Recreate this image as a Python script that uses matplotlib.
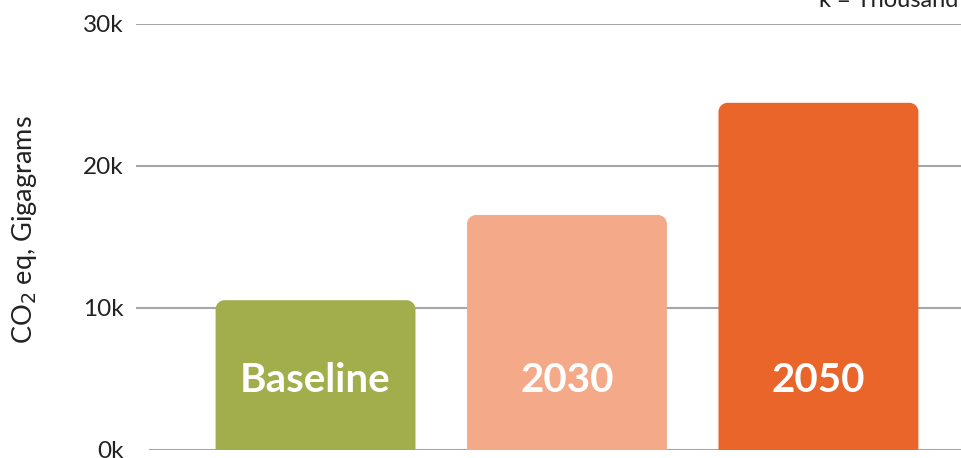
import matplotlib.pyplot as plt
from matplotlib.path import Path
from matplotlib.patches import PathPatch

plt.rcParams['font.family'] = ['Lato', 'DejaVu Sans']

# data
categories = ['Baseline', '2030', '2050']
emissions = [10550, 16550, 24450]
colors = ['#A2AE4C', '#F4AA89', '#EA652A']
yticks = [0, 10000, 20000, 30000]
ytick_labels = ['0k', '10k', '20k', '30k']

fig = plt.figure(figsize=(9.61, 4.58), dpi=100)
ax = fig.add_axes([136 / 961, 1 - 450 / 458, 1 - 136 / 961, (450 - 24) / 458])

ax.set_xlim(-0.714, 2.567)
ax.set_ylim(0, 30000)

# grid lines (the zero line starts a little further right)
for t in yticks:
    ax.axhline(t, xmin=0.017 if t == 0 else 0, color='#A6A6A6',
               linewidth=1.5, zorder=0)


def top_rounded_bar(x0, w, h, rx, ry):
    k = 0.5523
    verts = [(x0, 0), (x0, h - ry),
             (x0, h - ry + k * ry), (x0 + rx - k * rx, h), (x0 + rx, h),
             (x0 + w - rx, h),
             (x0 + w - rx + k * rx, h), (x0 + w, h - ry + k * ry), (x0 + w, h - ry),
             (x0 + w, 0), (x0, 0)]
    codes = [Path.MOVETO, Path.LINETO,
             Path.CURVE4, Path.CURVE4, Path.CURVE4,
             Path.LINETO,
             Path.CURVE4, Path.CURVE4, Path.CURVE4,
             Path.LINETO, Path.CLOSEPOLY]
    return Path(verts, codes)


bar_w = 0.795
# corner radius about 9 px, turned into data units
px_x = (2.567 + 0.714) / 825
px_y = 30000 / 426
for i, (cat, val, col) in enumerate(zip(categories, emissions, colors)):
    p = top_rounded_bar(i - bar_w / 2, bar_w, val, 9 * px_x, 9 * px_y)
    ax.add_patch(PathPatch(p, facecolor=col, edgecolor='none', zorder=2))
    ax.text(i, 4900, cat, ha='center', va='center', color='white',
            fontsize=29, fontweight='bold', zorder=3)

ax.set_yticks(yticks)
ax.set_yticklabels(ytick_labels, fontsize=17.5, color='#222222')
ax.tick_params(axis='y', length=0, pad=9)
ax.set_xticks([])
for s in ax.spines.values():
    s.set_visible(False)

fig.text(10 / 961, 1 - 230 / 458, 'CO$_2$ eq, Gigagrams', rotation=90,
         ha='left', va='center', fontsize=19.5, color='#222222')
fig.text(958 / 961, 1 - 7 / 458, 'k = Thousand', ha='right', va='baseline',
         fontsize=17, color='#222222')

fig.savefig('out.png', dpi=100)
